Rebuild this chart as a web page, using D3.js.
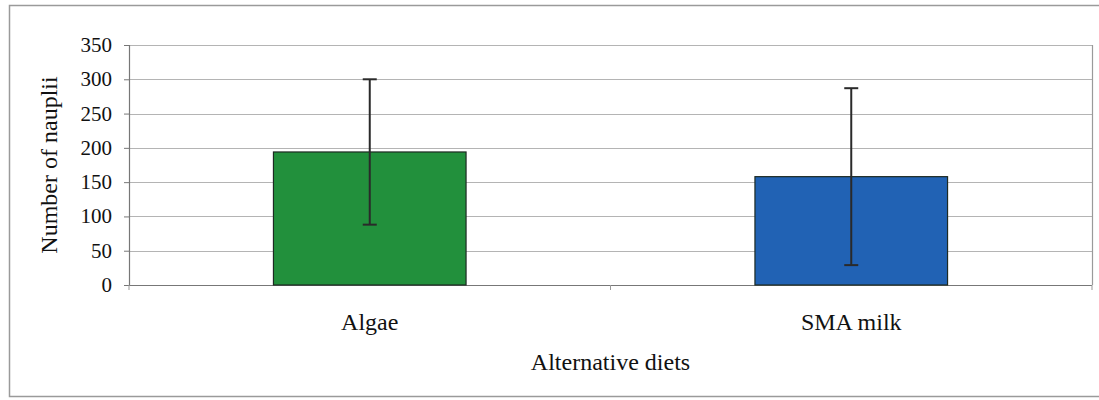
<!DOCTYPE html>
<html>
<head>
<meta charset="utf-8">
<script src="https://cdn.jsdelivr.net/npm/d3@7"></script>
</head>
<body style="margin:0">
<svg id="chart" width="1099" height="400" font-family="Liberation Serif"></svg>
<script>
// diets on the x axis
var diets = ["Algae", "SMA milk"];
// mean number of nauplii per diet
var meanNauplii = [194, 158];
// error (+/-) for each diet
var errNauplii = [106, 129];
// y ticks
var yTicks = [0, 50, 100, 150, 200, 250, 300, 350];
var barColours = ["#22903c", "#2162b4"];

var svg = d3.select("#chart");
var W = 1099, H = 400;
var margin = {top: 45, right: 7, bottom: 115, left: 129};
var pw = W - margin.left - margin.right;
var ph = H - margin.top - margin.bottom;

var xs = d3.scaleBand().domain(diets).range([margin.left, margin.left + pw]).paddingInner(0.6).paddingOuter(0.3);
var ys = d3.scaleLinear().domain([0, 350]).range([margin.top + ph, margin.top]);

// outer chart frame
svg.append("rect")
   .attr("x", 9.5).attr("y", 5.5)
   .attr("width", W + 10).attr("height", 391)
   .attr("fill", "none").attr("stroke", "#9a9a9a").attr("stroke-width", 1.5);

// gridlines
svg.selectAll("line.grid")
  .data(yTicks.slice(1))
  .enter().append("line")
  .attr("class", "grid")
  .attr("x1", margin.left).attr("x2", margin.left + pw)
  .attr("y1", function(d) { return Math.round(ys(d)) + 0.5; })
  .attr("y2", function(d) { return Math.round(ys(d)) + 0.5; })
  .attr("stroke", "#b4b4b4").attr("stroke-width", 1.2);

// right border of plot area
svg.append("line")
  .attr("x1", margin.left + pw + 0.5).attr("x2", margin.left + pw + 0.5)
  .attr("y1", margin.top).attr("y2", margin.top + ph)
  .attr("stroke", "#9a9a9a").attr("stroke-width", 1.2);

// y axis line and tick marks, labels drawn below as plain text
var yAxis = svg.append("g")
  .attr("transform", "translate(" + margin.left + ",0)")
  .call(d3.axisLeft(ys).tickValues(yTicks).tickSize(5).tickFormat(function() { return ""; }));
yAxis.select(".domain").attr("stroke", "#777").attr("stroke-width", 1.2);
yAxis.selectAll(".tick line").attr("stroke", "#777");
yAxis.selectAll("text").remove();

// x axis line with tick between categories
svg.append("line")
  .attr("x1", margin.left).attr("x2", margin.left + pw)
  .attr("y1", margin.top + ph + 0.5).attr("y2", margin.top + ph + 0.5)
  .attr("stroke", "#777").attr("stroke-width", 1.2);
var sepTicks = [margin.left, margin.left + pw / 2, margin.left + pw];
svg.selectAll("line.sep")
  .data(sepTicks)
  .enter().append("line")
  .attr("class", "sep")
  .attr("x1", function(d) { return d; }).attr("x2", function(d) { return d; })
  .attr("y1", margin.top + ph).attr("y2", margin.top + ph + 5)
  .attr("stroke", "#999");

// bars
svg.selectAll("rect.bar")
  .data(diets)
  .enter().append("rect")
  .attr("class", "bar")
  .attr("x", function(d) { return xs(d); })
  .attr("y", function(d, i) { return ys(meanNauplii[i]); })
  .attr("width", xs.bandwidth())
  .attr("height", function(d, i) { return ys(0) - ys(meanNauplii[i]); })
  .attr("fill", function(d, i) { return barColours[i]; })
  .attr("stroke", "#1d2a22").attr("stroke-width", 1.2);

// error bars
diets.forEach(function(d, i) {
  var cx = xs(d) + xs.bandwidth() / 2;
  var lo = ys(meanNauplii[i] - errNauplii[i]);
  var hi = ys(meanNauplii[i] + errNauplii[i]);
  svg.append("line").attr("x1", cx).attr("x2", cx).attr("y1", lo).attr("y2", hi)
    .attr("stroke", "#2a2a2a").attr("stroke-width", 2);
  [lo, hi].forEach(function(yy) {
    svg.append("line").attr("x1", cx - 7).attr("x2", cx + 7).attr("y1", yy).attr("y2", yy)
      .attr("stroke", "#2a2a2a").attr("stroke-width", 2);
  });
});

// tick labels
yTicks.forEach(function(t) {
  svg.append("text")
    .attr("x", margin.left - 17)
    .attr("y", ys(t) + 7)
    .attr("text-anchor", "end")
    .attr("font-family", "Liberation Serif").attr("font-size", 21)
    .attr("fill", "#111")
    .text(t);
});

// category labels
diets.forEach(function(d) {
  svg.append("text")
    .attr("x", xs(d) + xs.bandwidth() / 2)
    .attr("y", margin.top + ph + 45)
    .attr("text-anchor", "middle")
    .attr("font-family", "Liberation Serif").attr("font-size", 24)
    .attr("fill", "#111")
    .text(d);
});

// axis titles
svg.append("text")
  .attr("x", margin.left + pw / 2)
  .attr("y", margin.top + ph + 85)
  .attr("text-anchor", "middle")
  .attr("font-family", "Liberation Serif").attr("font-size", 24)
  .attr("fill", "#111")
  .text("Alternative diets");

svg.append("text")
  .attr("transform", "translate(" + (margin.left - 72) + "," + (margin.top + ph / 2) + ") rotate(-90)")
  .attr("text-anchor", "middle")
  .attr("font-family", "Liberation Serif").attr("font-size", 24)
  .attr("fill", "#111")
  .text("Number of nauplii");
</script>
</body>
</html>
